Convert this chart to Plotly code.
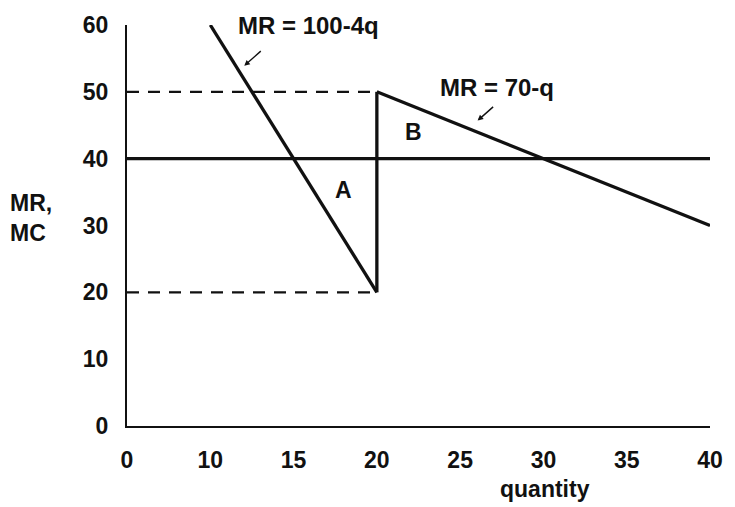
import plotly.graph_objects as go

# data (quantity, MR/MC)
mr1_q = [10, 20]
mr1_v = [60, 20]
mr2_q = [20, 40]
mr2_v = [50, 30]
mc_q = [5, 40]
mc_v = [40, 40]
vert_q = [20, 20]
vert_v = [20, 50]
dash50_q = [5, 20]
dash50_v = [50, 50]
dash20_q = [5, 20]
dash20_v = [20, 20]

x_tickvals = [5, 10, 15, 20, 25, 30, 35, 40]
x_ticktext = ["0", "10", "15", "20", "25", "30", "35", "40"]
y_tickvals = [0, 10, 20, 30, 40, 50, 60]

FONT = "Liberation Sans"
BLACK = "#111111"

W, H = 735, 507
L, R, T, B = 127, 21, 20, 81

fig = go.Figure()
solid = dict(color=BLACK, width=3.3)
dashed = dict(color=BLACK, width=2.2, dash="12px,9px")
for xs, ys, ln in [
    (mc_q, mc_v, solid),
    (mr1_q, mr1_v, solid),
    (mr2_q, mr2_v, solid),
    (vert_q, vert_v, solid),
    (dash50_q, dash50_v, dashed),
    (dash20_q, dash20_v, dashed),
]:
    fig.add_trace(go.Scatter(x=xs, y=ys, mode="lines", line=ln,
                             showlegend=False, hoverinfo="skip", cliponaxis=False))

tfont = dict(family=FONT, size=23, color=BLACK, weight="bold")
afont = dict(family=FONT, size=24, color=BLACK, weight="bold")
pw, ph = W - L - R, H - T - B


def px2paper(xp, yp):
    return (xp - L) / pw, (H - B - yp) / ph


ann = [
    dict(x=15.9, y=60, text="MR = 100-4q", showarrow=False, font=afont),
    dict(x=27.2, y=50.7, text="MR = 70-q", showarrow=False, font=afont),
    dict(x=18.0, y=35.3, text="A", showarrow=False, font=tfont),
    dict(x=22.2, y=44.0, text="B", showarrow=False, font=tfont),
    dict(x=12.04, y=53.9, text="", showarrow=True, ax=18, ay=-16,
         arrowhead=2, arrowsize=0.8, arrowwidth=1.4, arrowcolor=BLACK),
    dict(x=26.05, y=45.7, text="", showarrow=True, ax=17, ay=-15,
         arrowhead=2, arrowsize=0.8, arrowwidth=1.4, arrowcolor=BLACK),
]
qx, qy = px2paper(548, 490)
ann.append(dict(xref="paper", yref="paper", x=qx, y=qy, text="quantity",
                xanchor="center", yanchor="middle", showarrow=False, font=tfont))
mx, my = px2paper(7, 215)
ann.append(dict(xref="paper", yref="paper", x=mx, y=my, text="MR,<br>MC", align="left",
                xanchor="left", yanchor="middle", showarrow=False, font=tfont))

fig.update_layout(
    width=W, height=H,
    margin=dict(l=L, r=R, t=T, b=B),
    paper_bgcolor="white", plot_bgcolor="white",
    font=tfont,
    annotations=ann,
    xaxis=dict(range=[5, 40], tickvals=x_tickvals, ticktext=x_ticktext,
               showgrid=False, zeroline=False, showline=True, linecolor=BLACK,
               linewidth=2, ticks="", ticklabelstandoff=12, tickfont=tfont),
    yaxis=dict(range=[0, 60], tickvals=y_tickvals, showgrid=False, zeroline=False,
               showline=True, linecolor=BLACK, linewidth=2, ticks="",
               ticklabelstandoff=12, tickfont=tfont),
)

fig.write_html("out.html", config={"displayModeBar": False},
               post_script="document.body.style.margin='0';document.body.style.padding='0';")
